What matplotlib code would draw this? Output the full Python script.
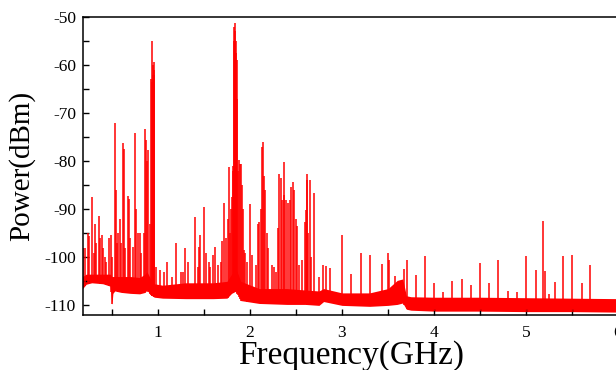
import matplotlib
matplotlib.use("Agg")
import matplotlib.pyplot as plt
import numpy as np

# ---- data ----
# noise floor envelope (GHz, dBm)
floor_f = [0.18, 0.22, 0.28, 0.40, 0.48, 0.50, 0.51, 0.53, 0.60, 0.70, 0.80, 0.86,
           0.88, 0.92, 0.96, 1.05, 1.30, 1.60, 1.75, 1.80, 1.85, 1.90, 2.10, 2.40,
           2.60, 2.75, 2.80, 3.00, 3.30, 3.50, 3.60, 3.66, 3.70, 3.75, 4.00, 4.50,
           5.00, 5.50, 6.00]
floor_lo = [-106.5, -105.6, -105.3, -105.5, -106.0, -109.8, -107.5, -107.0, -107.3,
            -107.5, -107.6, -107.3, -106.8, -107.8, -108.3, -108.5, -108.6, -108.6,
            -108.5, -107.5, -107.0, -109.0, -109.6, -109.8, -109.8, -110.0, -109.2,
            -110.0, -110.2, -110.0, -109.8, -109.5, -110.8, -111.0, -111.2, -111.2,
            -111.3, -111.3, -111.4]
floor_hi = [-104.0, -103.5, -103.5, -103.5, -103.5, -104.0, -104.0, -104.0, -104.0,
            -104.0, -104.2, -103.5, -103.0, -104.5, -105.5, -105.8, -105.3, -105.3,
            -105.0, -103.5, -102.5, -105.0, -106.5, -106.5, -106.8, -107.0, -106.5,
            -107.4, -107.4, -106.5, -104.8, -104.5, -108.0, -108.2, -108.3, -108.3,
            -108.4, -108.5, -108.6]

# spectral lines (GHz, dBm)
peak_f = [0.19, 0.205, 0.24, 0.25, 0.286, 0.30, 0.315, 0.33, 0.359, 0.375, 0.388, 0.40,
          0.42, 0.44, 0.468, 0.486, 0.50, 0.533, 0.54, 0.555, 0.57, 0.587, 0.60, 0.623,
          0.63, 0.645, 0.67, 0.68, 0.70, 0.725, 0.75, 0.76, 0.786, 0.80, 0.82, 0.845,
          0.859, 0.87, 0.88, 0.895, 0.91, 0.928, 0.933, 0.938, 0.942, 0.947, 0.952,
          0.957, 0.962, 0.98, 1.02, 1.06, 1.10, 1.15, 1.196, 1.25, 1.27,
          1.29, 1.33, 1.40, 1.43, 1.446, 1.457, 1.50, 1.52, 1.55, 1.57, 1.60, 1.62,
          1.65, 1.68, 1.70, 1.72, 1.74, 1.757, 1.768, 1.78, 1.79,
          1.80, 1.81, 1.815, 1.822, 1.828, 1.834, 1.84, 1.846, 1.852, 1.858, 1.864,
          1.87, 1.88, 1.89, 1.90, 1.91, 1.92,
          1.94, 1.95, 1.97, 2.00, 2.02, 2.06, 2.09, 2.10, 2.125, 2.134, 2.145, 2.155,
          2.165, 2.18, 2.20, 2.24, 2.26, 2.28, 2.30, 2.32, 2.335, 2.35, 2.366, 2.375,
          2.39, 2.417, 2.43, 2.45, 2.464, 2.475, 2.497, 2.51, 2.53, 2.57, 2.598, 2.61,
          2.617, 2.623, 2.635, 2.652, 2.665, 2.696, 2.75,
          2.797, 2.83, 2.87, 2.997, 3.10, 3.203, 3.305, 3.44, 3.50, 3.51, 3.576,
          3.67, 3.703, 3.80, 3.90, 4.00, 4.10, 4.20, 4.30, 4.40, 4.50, 4.60, 4.70,
          4.80, 4.90, 5.00, 5.105, 5.188, 5.205, 5.25, 5.31, 5.40, 5.50, 5.605, 5.70]
peak_p = [-98.0, -98.1, -95.0, -95.5, -87.5, -99.0, -93.0, -97.0, -91.3, -96.0, -95.4, -98.0,
          -100.0, -101.0, -96.0, -95.4, -100.0, -72.0, -86.0, -97.0, -95.0, -92.0, -97.0, -76.3,
          -77.5, -98.0, -87.3, -87.8, -96.0, -97.8, -74.2, -90.0, -95.0, -95.0, -99.0, -95.0,
          -73.2, -75.5, -80.0, -77.7, -93.0, -63.0, -63.5, -54.9, -60.0, -62.0, -61.0,
          -59.3, -62.0, -102.0, -102.7, -103.0, -101.0, -104.0, -97.0, -103.0, -103.0,
          -98.0, -101.0, -91.7, -102.0, -97.8, -95.4, -89.5, -99.0, -101.0, -102.0, -99.6, -97.8,
          -101.5, -101.0, -96.5, -88.7, -96.0, -92.0, -81.2, -95.0, -90.0,
          -87.4, -82.0, -81.0, -55.0, -52.0, -51.3, -53.0, -55.0, -57.5, -59.0, -67.0,
          -82.0, -79.8, -80.5, -80.5, -85.0, -90.0,
          -98.5, -99.0, -101.0, -89.0, -99.5, -101.6, -93.0, -92.7, -90.0, -77.0, -76.0, -83.0,
          -86.0, -95.0, -98.0, -101.6, -102.0, -103.0, -94.0, -82.6, -83.5, -88.0, -80.1, -87.0,
          -88.0, -88.8, -88.0, -85.3, -84.3, -86.0, -92.0, -93.5, -101.5, -100.5, -92.6, -90.2,
          -82.7, -84.0, -95.0, -84.0, -100.0, -86.7, -104.0,
          -101.7, -101.8, -102.3, -95.3, -103.5, -99.2, -99.6, -101.3, -99.2, -100.5, -103.8,
          -102.4, -100.5, -103.6, -99.7, -105.4, -107.3, -105.0, -104.6, -105.7, -101.1, -105.4, -100.6,
          -107.1, -107.3, -99.8, -102.6, -92.5, -102.8, -107.7, -105.1, -99.8, -99.6, -105.3, -101.7]

x_ticks = [1, 2, 3, 4, 5, 6]
y_ticks = [-110, -100, -90, -80, -70, -60, -50]

# ---- figure ----
plt.rcParams['font.family'] = ['Liberation Serif', 'DejaVu Serif']
fig = plt.figure(figsize=(6.16, 3.70), dpi=100)
ax = fig.add_axes([83 / 616, 55 / 370, 535 / 616, 298 / 370])

red = '#ff0000'
ax.fill_between(floor_f, floor_lo, floor_hi, color=red, linewidth=0)
base = np.interp(peak_f, floor_f, floor_lo)
ax.vlines(peak_f, base, peak_p, color=red, linewidth=1.1)

ax.set_xlim(0.185, 6.0)
ax.set_ylim(-112, -50)
ax.set_xticks(x_ticks)
ax.set_xticklabels([str(t) for t in x_ticks])
ax.set_yticks(y_ticks)
ax.set_yticklabels([str(t) for t in y_ticks])
ax.set_xticks(np.arange(0.5, 6.0, 1.0), minor=True)
ax.set_yticks(np.arange(-105, -50, 10), minor=True)
ax.tick_params(axis='both', which='both', direction='in', length=4.5, width=1,
               top=False, right=False, labelsize=12.5)
ax.tick_params(axis='x', pad=7)
ax.tick_params(axis='y', pad=5)
for s in ax.spines.values():
    s.set_linewidth(1.1)

fig.text(351 / 616, 1 - 356 / 370, 'Frequency(GHz)', fontsize=24, ha='center', va='center')
fig.text(22 / 616, 1 - 166 / 370, 'Power(dBm)', fontsize=21, ha='center', va='center',
         rotation=90)

fig.savefig('out.png', dpi=100)
